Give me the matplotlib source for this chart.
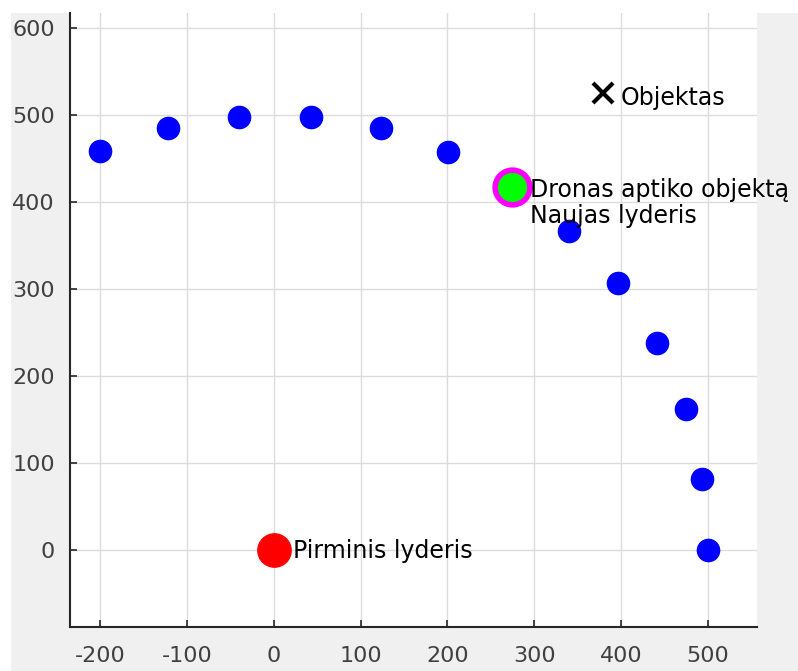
import numpy as np
import matplotlib
matplotlib.use("Agg")
import matplotlib.pyplot as plt
from matplotlib.patches import Rectangle

plt.rcParams["axes.unicode_minus"] = False

# drone positions
drone_x = [-200, -122, -40, 43, 123, 201, 340, 397, 442, 475, 494, 500]
drone_y = [458, 485, 498, 498, 485, 457, 367, 307, 238, 162, 82, 0]

# drone that spotted the object (new leader)
finder_x = [274]
finder_y = [417]

# first leader
leader_x = [0]
leader_y = [0]

# object
object_x = [380]
object_y = [525]

xticks = [-200, -100, 0, 100, 200, 300, 400, 500]
yticks = [0, 100, 200, 300, 400, 500, 600]

W, H = 798, 671
fig = plt.figure(figsize=(W / 100, H / 100), dpi=100)
fig.patch.set_facecolor("white")
# matlab grey figure background (image is cropped with a white strip top/left)
fig.patches.append(Rectangle((11 / W, 0), 1 - 11 / W, 1 - 13 / H,
                             transform=fig.transFigure, facecolor="#f0f0f0",
                             edgecolor="none", zorder=-10))

ax = fig.add_axes([70 / W, (H - 627) / H, (757 - 70) / W, (627 - 13) / H])
ax.set_facecolor("white")

ax.plot(drone_x, drone_y, "o", color="blue", markersize=16, zorder=3)
ax.plot(finder_x, finder_y, "o", markerfacecolor="#00ff00",
        markeredgecolor="magenta", markersize=25, markeredgewidth=4, zorder=3)
ax.plot(leader_x, leader_y, "o", color="red", markersize=24, zorder=3)
ax.plot(object_x, object_y, "x", color="black", markersize=15,
        markeredgewidth=3, zorder=3)

fs = 17
ax.text(object_x[0] + 20, object_y[0] - 6, "Objektas", fontsize=fs, va="center")
ax.text(finder_x[0] + 21, finder_y[0] - 3, "Dronas aptiko objektą", fontsize=fs, va="center")
ax.text(finder_x[0] + 21, finder_y[0] - 33, "Naujas lyderis", fontsize=fs, va="center")
ax.text(leader_x[0] + 22, leader_y[0] - 1, "Pirminis lyderis", fontsize=fs, va="center")

ax.set_xlim(-235, 557)
ax.set_ylim(-88, 617)
ax.set_xticks(xticks)
ax.set_yticks(yticks)
ax.grid(True, color="#dcdcdc", linewidth=1)
ax.set_axisbelow(True)

for s in ["top", "right"]:
    ax.spines[s].set_visible(False)
for s in ["left", "bottom"]:
    ax.spines[s].set_color("#262626")
    ax.spines[s].set_linewidth(1.5)

ax.tick_params(direction="in", length=5, width=1.2, color="#262626",
               labelcolor="#404040", labelsize=16)
ax.tick_params(axis="x", pad=14)
ax.tick_params(axis="y", pad=11)

fig.savefig("out.png", dpi=100, facecolor=fig.get_facecolor())
